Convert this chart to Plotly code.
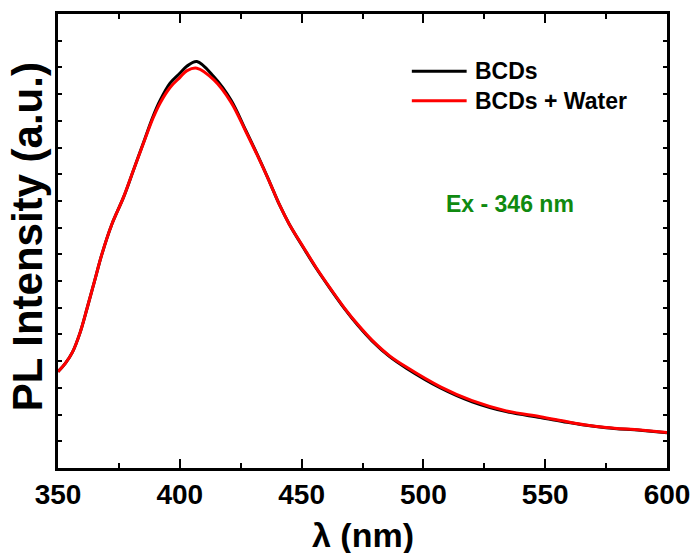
import plotly.graph_objects as go

wavelength = [350, 353, 356, 359, 362, 365, 368, 372, 377, 381, 385, 389, 392, 396, 400, 403, 407, 414, 421,
              427, 433, 437, 441, 445, 451, 456, 462, 468, 473, 479, 486, 493, 507, 520, 534,
              548, 559, 566, 575, 589, 600]
bcds = [361, 392, 435, 505, 600, 700, 800, 910, 1016, 1116, 1216, 1316, 1378, 1441, 1478, 1505, 1522, 1465, 1378,
        1266, 1150, 1068, 984, 912, 821, 748, 668, 592, 535, 475, 418, 374, 300, 248, 211,
        189, 171, 161, 151, 141, 132]
bcds_water = [361, 392, 435, 505, 600, 700, 800, 910, 1016, 1116, 1214, 1310, 1368, 1425, 1462, 1488, 1497, 1453, 1370,
              1262, 1148, 1068, 984, 912, 823, 750, 670, 594, 538, 478, 421, 378, 304, 252, 214,
              192, 173, 162, 152, 142, 133]

series_names = ["BCDs", "BCDs + Water"]
series_colors = ["#000000", "#ff0000"]
x_tick_vals = [350, 400, 450, 500, 550, 600]

FONT = "Arial, 'Liberation Sans', sans-serif"

fig = go.Figure()
for name, ys, col in zip(series_names, [bcds, bcds_water], series_colors):
    fig.add_trace(go.Scatter(x=wavelength, y=ys, mode="lines", name=name,
                             line=dict(color=col, width=3, shape="spline", smoothing=1.0),
                             showlegend=False))

fig.update_layout(
    width=696, height=553,
    margin=dict(l=58, r=29, t=14, b=85),
    paper_bgcolor="white", plot_bgcolor="white",
    font=dict(family=FONT, color="black"),
)

fig.update_xaxes(
    range=[350, 600], tickvals=x_tick_vals, ticktext=[str(v) for v in x_tick_vals],
    ticks="inside", ticklen=9, tickwidth=2, tickcolor="black",
    minor=dict(ticks="inside", ticklen=5, tickwidth=2, tickcolor="black", dtick=25, tick0=350),
    showline=True, linewidth=2.5, linecolor="black", mirror="allticks",
    showgrid=False, zeroline=False, automargin=False,
    tickfont=dict(family=FONT, size=28, weight="bold", color="black"),
)
fig.update_yaxes(
    range=[0, 1700], dtick=100, tick0=0,
    ticks="inside", ticklen=4, tickwidth=1.5, tickcolor="black",
    showticklabels=False, automargin=False,
    showline=True, linewidth=2.5, linecolor="black", mirror="allticks",
    showgrid=False, zeroline=False,
)

# axis titles
fig.add_annotation(text="λ (nm)", xref="paper", yref="paper", x=0.5, y=-0.1476,
                   xanchor="center", yanchor="middle", showarrow=False,
                   font=dict(family=FONT, size=34, weight="bold", color="black"))
fig.add_annotation(text="PL Intensity (a.u.)", xref="paper", yref="paper", x=0, y=0.508,
                   xshift=-31, xanchor="center", yanchor="middle", textangle=-90, showarrow=False,
                   font=dict(family=FONT, size=42, weight="bold", color="black"))

# legend (drawn manually to match long sample lines)
legend_y = [0.874, 0.809]
for name, col, ly in zip(series_names, series_colors, legend_y):
    fig.add_shape(type="line", xref="paper", yref="paper", x0=0.581, x1=0.671, y0=ly, y1=ly,
                  line=dict(color=col, width=3))
    fig.add_annotation(text=name, xref="paper", yref="paper", x=0.681, y=ly,
                       xanchor="left", yanchor="middle", showarrow=False,
                       font=dict(family=FONT, size=23, weight="bold", color="black"))

fig.add_annotation(text="Ex - 346 nm", xref="paper", yref="paper", x=0.743, y=0.5815,
                   xanchor="center", yanchor="middle", showarrow=False,
                   font=dict(family=FONT, size=23, weight="bold", color="#108a10"))

fig.write_html("out.html", config={"displayModeBar": False},
               post_script="document.body.style.margin='0';document.body.style.overflow='hidden';")
